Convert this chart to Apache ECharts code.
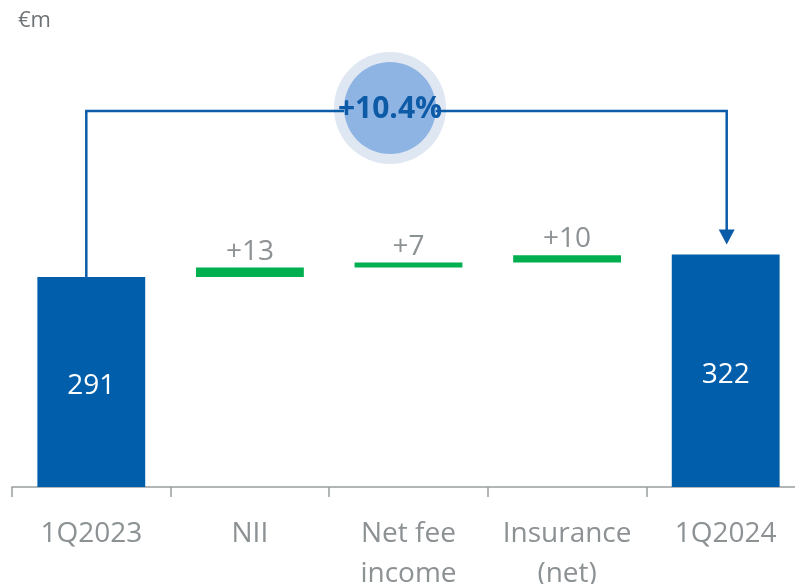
<!DOCTYPE html>
<html>
<head>
<meta charset="utf-8">
<script src="https://cdn.jsdelivr.net/npm/echarts@6/dist/echarts.min.js"></script>
<style>
  html, body { margin: 0; padding: 0; background: #ffffff; }
  #chart { width: 795px; height: 584px; }
</style>
</head>
<body>
<div id="chart"></div>
<script>
// waterfall data (€m)
const categories = ['1Q2023', 'NII', 'Net fee\nincome', 'Insurance\n(net)', '1Q2024'];
const startValue = 291;
const endValue = 322;
const deltas = [13, 7, 10];
const growthLabel = '+10.4%';

// invisible base under each green step
const baseValues = ['-', startValue, startValue + deltas[0], startValue + deltas[0] + deltas[1], '-'];
const totalValues = [startValue, '-', '-', '-', endValue];
const deltaValues = ['-', deltas[0], deltas[1], deltas[2], '-'];

const BLUE = '#005eaa';
const GREEN = '#00b050';
const GREY = '#8c9194';
const FONT = 'Open Sans';

var myChart = echarts.init(document.getElementById('chart'));

myChart.setOption({
  animation: false,
  textStyle: { fontFamily: FONT },
  title: {
    text: '€m',
    left: 13,
    top: 5,
    textStyle: { fontSize: 22, fontWeight: 'normal', color: '#6f7376', fontFamily: FONT }
  },
  grid: { left: 12, right: -10, top: 54, bottom: 97, outerBoundsMode: 'none', containLabel: false },
  xAxis: {
    type: 'category',
    data: categories,
    axisLine: { lineStyle: { color: '#9a9ea0', width: 1.5 } },
    axisTick: { show: true, interval: 0, length: 10, lineStyle: { color: '#9a9ea0', width: 1.5 } },
    axisLabel: { interval: 0, hideOverlap: false, color: GREY, fontSize: 28, margin: 27, lineHeight: 40, fontFamily: FONT }
  },
  yAxis: { type: 'value', min: 0, max: 600, show: false },
  series: [
    {
      type: 'bar', stack: 'wf', barWidth: '68%',
      itemStyle: { color: 'transparent' },
      data: baseValues
    },
    {
      type: 'bar', stack: 'wf',
      itemStyle: { color: BLUE },
      label: { show: true, position: 'inside', offset: [0, 4], color: '#ffffff', fontSize: 28, fontFamily: FONT },
      data: totalValues
    },
    {
      type: 'bar', stack: 'wf',
      itemStyle: { color: GREEN },
      label: {
        show: true, position: 'top', distance: 2, color: GREY, fontSize: 28, fontFamily: FONT,
        formatter: p => '+' + p.value
      },
      data: deltaValues
    },
    {
      // growth bracket with arrow and bubble
      type: 'custom',
      z: 10,
      data: [[0, startValue, 4, endValue]],
      renderItem: function (params, api) {
        const a = api.coord([api.value(0), api.value(1)]);
        const b = api.coord([api.value(2), api.value(3)]);
        const x0 = a[0] - 5, x1 = b[0] + 1;
        const topY = 111;
        const tipY = b[1] - 10;
        const cx = 390, cy = 108;
        const lineStyle = { stroke: '#0a5ca8', lineWidth: 2.5, fill: null };
        return {
          type: 'group',
          children: [
            { type: 'polyline', shape: { points: [[x0, a[1]], [x0, topY], [x1, topY], [x1, tipY - 12]] }, style: lineStyle },
            { type: 'polygon', shape: { points: [[x1 - 8, tipY - 15], [x1 + 8, tipY - 15], [x1, tipY]] }, style: { fill: '#0a5ca8' } },
            { type: 'circle', shape: { cx: cx, cy: cy, r: 56 }, style: { fill: '#dfe7f2' } },
            { type: 'polyline', shape: { points: [[cx - 56, topY], [cx + 56, topY]] }, style: lineStyle },
            { type: 'circle', shape: { cx: cx, cy: cy, r: 46 }, style: { fill: '#8eb4e3' } },
            {
              type: 'text',
              style: {
                text: growthLabel, x: cx, y: cy + 1, align: 'center', verticalAlign: 'middle',
                fill: '#0d5aa7', font: 'bold 30px "' + FONT + '"'
              }
            }
          ]
        };
      }
    }
  ]
});
</script>
</body>
</html>
